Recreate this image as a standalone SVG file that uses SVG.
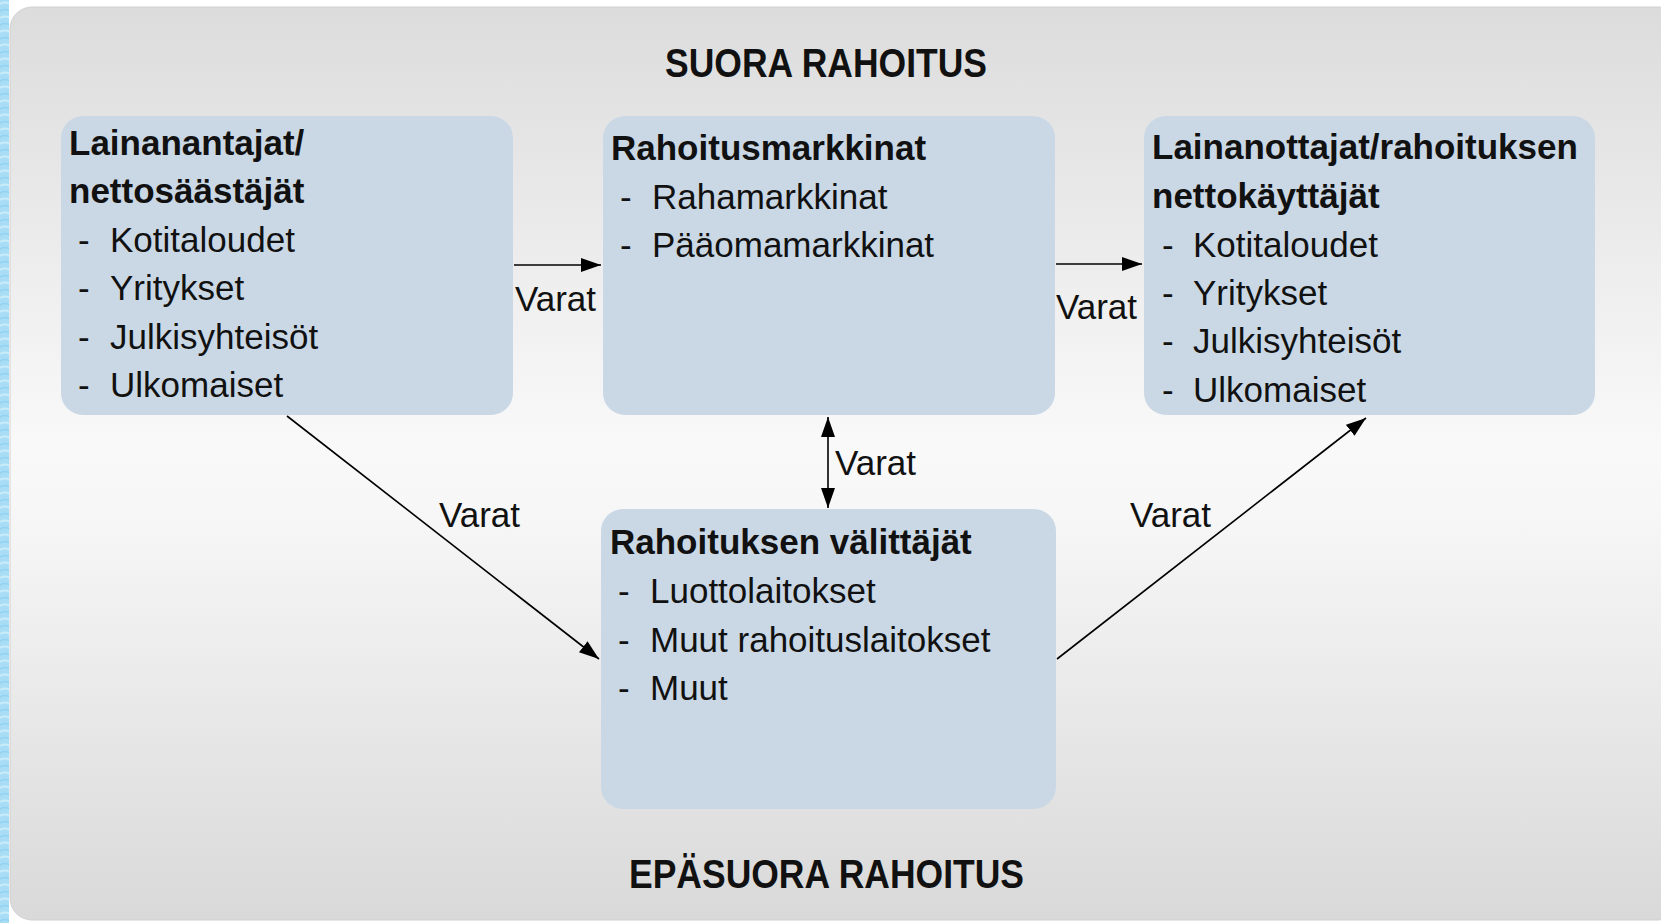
<svg xmlns="http://www.w3.org/2000/svg" width="1661" height="923" viewBox="0 0 1661 923">
<defs>
<style>
text{font-family:"Liberation Sans",Arial,Helvetica,sans-serif;fill:#111;font-size:35px}
.h{font-weight:bold}
.t{font-weight:bold;text-anchor:middle;font-size:40px}
.box{fill:#cad8e6}
.con{stroke:#000;stroke-width:1.6;fill:none}
</style>
<linearGradient id="bg" x1="0" y1="0" x2="0" y2="1">
<stop offset="0" stop-color="#dcdcdc"/>
<stop offset="0.48" stop-color="#f9f9f9"/>
<stop offset="0.55" stop-color="#f7f7f7"/>
<stop offset="1" stop-color="#d9d9d9"/>
</linearGradient>
<pattern id="wave" width="10" height="14" patternUnits="userSpaceOnUse">
<rect width="10" height="14" fill="#a9ddf6"/>
<path d="M0,4 Q5,1 10,4" stroke="#c9ecfb" stroke-width="2" fill="none"/>
<path d="M0,11 Q5,8 10,11" stroke="#8fd2f2" stroke-width="1.5" fill="none"/>
</pattern>
<marker id="ah" viewBox="0 0 20 14" refX="20" refY="7" markerWidth="20" markerHeight="14" markerUnits="userSpaceOnUse" orient="auto-start-reverse">
<path d="M0,0 L20,7 L0,14 z" fill="#000"/>
</marker>
</defs>
<rect width="1661" height="923" fill="#ffffff"/>
<rect x="0" y="0" width="9" height="923" fill="url(#wave)"/>
<rect x="10" y="7" width="1670" height="913" rx="22" fill="url(#bg)" stroke="#d0d0d0" stroke-width="1"/>
<text class="t" x="826" y="77" textLength="322" lengthAdjust="spacingAndGlyphs">SUORA RAHOITUS</text>
<text class="t" x="826.5" y="888" textLength="395" lengthAdjust="spacingAndGlyphs">EPÄSUORA RAHOITUS</text>
<g id="lainanantajat">
<rect class="box" x="61" y="116" width="452" height="299" rx="22"/>
<text class="h" x="69" y="155">Lainanantajat/</text>
<text class="h" x="69" y="203">nettosäästäjät</text>
<text x="78" y="252">-</text><text x="110" y="252">Kotitaloudet</text>
<text x="78" y="300">-</text><text x="110" y="300">Yritykset</text>
<text x="78" y="349">-</text><text x="110" y="349">Julkisyhteisöt</text>
<text x="78" y="397">-</text><text x="110" y="397">Ulkomaiset</text>
</g>
<g id="rahoitusmarkkinat">
<rect class="box" x="603" y="116" width="452" height="299" rx="22"/>
<text class="h" x="611" y="160">Rahoitusmarkkinat</text>
<text x="620" y="209">-</text><text x="652" y="209">Rahamarkkinat</text>
<text x="620" y="257">-</text><text x="652" y="257">Pääomamarkkinat</text>
</g>
<g id="lainanottajat">
<rect class="box" x="1144" y="116" width="451" height="299" rx="22"/>
<text class="h" x="1152" y="159">Lainanottajat/rahoituksen</text>
<text class="h" x="1152" y="208">nettokäyttäjät</text>
<text x="1162" y="257">-</text><text x="1193" y="257">Kotitaloudet</text>
<text x="1162" y="305">-</text><text x="1193" y="305">Yritykset</text>
<text x="1162" y="353">-</text><text x="1193" y="353">Julkisyhteisöt</text>
<text x="1162" y="402">-</text><text x="1193" y="402">Ulkomaiset</text>
</g>
<g id="valittajat">
<rect class="box" x="601" y="509" width="455" height="300" rx="22"/>
<text class="h" x="610" y="554">Rahoituksen välittäjät</text>
<text x="618" y="603">-</text><text x="650" y="603">Luottolaitokset</text>
<text x="618" y="652">-</text><text x="650" y="652">Muut rahoituslaitokset</text>
<text x="618" y="700">-</text><text x="650" y="700">Muut</text>
</g>
<g id="connectors">
<line class="con" x1="514" y1="265" x2="601" y2="265" marker-end="url(#ah)"/>
<text x="515" y="311">Varat</text>
<line class="con" x1="1056" y1="264" x2="1142" y2="264" marker-end="url(#ah)"/>
<text x="1056" y="319">Varat</text>
<line class="con" x1="828" y1="417" x2="828" y2="508" marker-start="url(#ah)" marker-end="url(#ah)"/>
<text x="835" y="475">Varat</text>
<line class="con" x1="287" y1="416" x2="599" y2="659" marker-end="url(#ah)"/>
<text x="439" y="527">Varat</text>
<line class="con" x1="1057" y1="659" x2="1366" y2="418" marker-end="url(#ah)"/>
<text x="1130" y="527">Varat</text>
</g>
</svg>
